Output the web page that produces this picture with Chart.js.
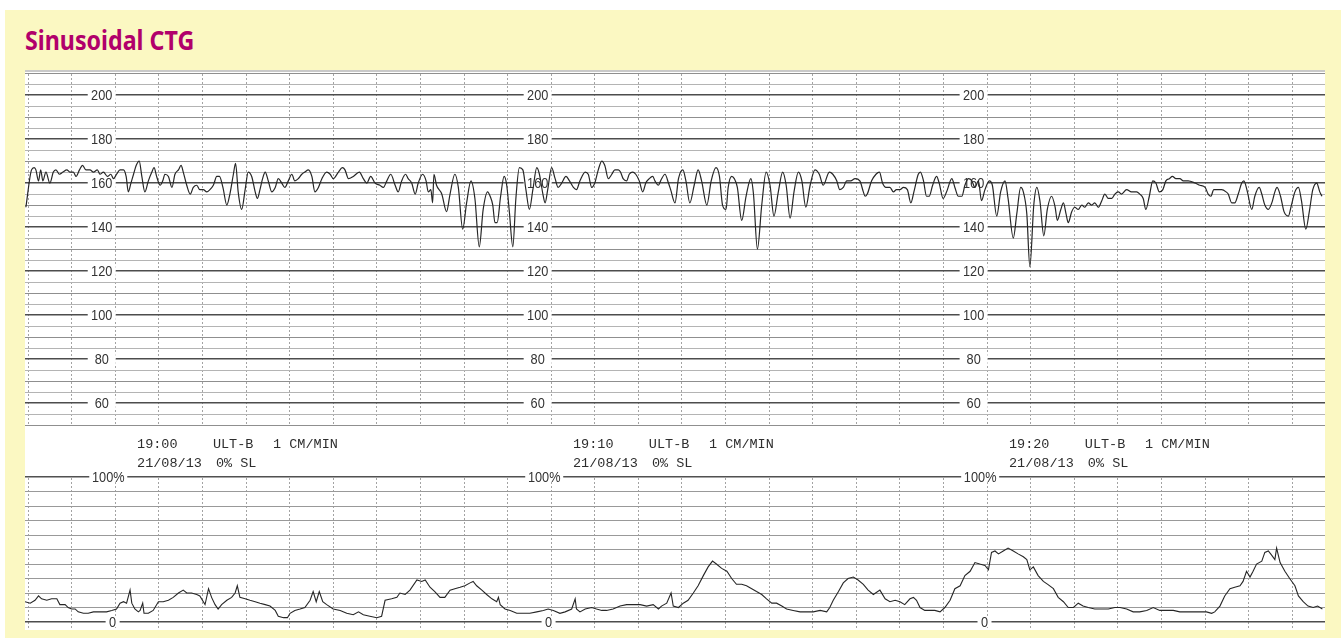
<!DOCTYPE html>
<html>
<head>
<meta charset="utf-8">
<script src="https://cdn.jsdelivr.net/npm/chart.js@4.4.1/dist/chart.umd.min.js"></script>
<style>
  body { margin: 0; background: #fff; width: 1341px; height: 638px; overflow: hidden; position: relative; }
  #frame { position: absolute; left: 5px; top: 10px; right: 0; bottom: 0; background: #fbf8c2; }
  h1 { position: absolute; left: 20px; top: 16px; margin: 0; font: bold 27px/27px "Noto Sans", sans-serif; color: #b1006b;
       transform: scaleX(.86); transform-origin: 0 0; white-space: nowrap; }
  #paper { position: absolute; left: 20px; top: 60px; width: 1300px; height: 560px; background: #fff; }
  #paper::after { content: ''; position: absolute; left: 0; right: 0; top: 0; height: 2px; background: #c9c9c9; }
</style>
</head>
<body>
<div id="frame">
  <h1>Sinusoidal CTG</h1>
  <div id="paper"><canvas id="ctg"></canvas></div>
</div>
<script>
// CTG trace: time in minutes from the first grid line, FHR in bpm, contractions in %
const fhrMin = [
  -0.05, 0.08, 0.14, 0.18, 0.24, 0.29, 0.34, 0.41, 0.50, 0.58,
  0.64, 0.72, 0.80, 0.89, 0.96, 1.04, 1.10, 1.18, 1.25, 1.33,
  1.42, 1.50, 1.59, 1.65, 1.73, 1.82, 1.90, 1.96, 2.03, 2.11,
  2.19, 2.25, 2.30, 2.36, 2.42, 2.48, 2.55, 2.61, 2.68, 2.76,
  2.84, 2.89, 2.95, 3.03, 3.09, 3.14, 3.22, 3.30, 3.37, 3.45,
  3.51, 3.56, 3.64, 3.72, 3.79, 3.87, 3.94, 4.02, 4.10, 4.17,
  4.25, 4.33, 4.39, 4.47, 4.56, 4.63, 4.71, 4.76, 4.82, 4.90,
  4.98, 5.05, 5.13, 5.21, 5.26, 5.32, 5.38, 5.44, 5.51, 5.59,
  5.67, 5.74, 5.82, 5.89, 5.97, 6.05, 6.12, 6.20, 6.28, 6.35,
  6.43, 6.51, 6.58, 6.66, 6.74, 6.85, 6.93, 7.00, 7.12, 7.21,
  7.27, 7.35, 7.46, 7.60, 7.69, 7.77, 7.86, 7.96, 8.07, 8.15,
  8.23, 8.32, 8.42, 8.49, 8.57, 8.66, 8.72, 8.80, 8.88, 8.95,
  9.05, 9.13, 9.18, 9.24, 9.28, 9.31, 9.37, 9.49, 9.60, 9.68,
  9.79, 9.87, 9.97, 10.06, 10.16, 10.25, 10.35, 10.44, 10.54, 10.60,
  10.66, 10.71, 10.76, 10.84, 10.92, 10.98, 11.04, 11.12, 11.19, 11.27,
  11.35, 11.42, 11.50, 11.58, 11.67, 11.73, 11.81, 11.86, 11.92, 12.01,
  12.09, 12.16, 12.24, 12.34, 12.42, 12.51, 12.58, 12.66, 12.78, 12.85,
  12.93, 13.00, 13.08, 13.16, 13.23, 13.31, 13.39, 13.46, 13.54, 13.59,
  13.65, 13.73, 13.79, 13.87, 13.94, 14.02, 14.10, 14.17, 14.25, 14.33,
  14.38, 14.46, 14.51, 14.61, 14.69, 14.74, 14.84, 14.92, 15.02, 15.09,
  15.18, 15.28, 15.37, 15.45, 15.57, 15.67, 15.78, 15.86, 15.93, 16.01,
  16.06, 16.14, 16.20, 16.27, 16.37, 16.47, 16.58, 16.64, 16.73, 16.83,
  16.93, 17.02, 17.11, 17.21, 17.31, 17.39, 17.48, 17.57, 17.67, 17.75,
  17.84, 17.94, 18.05, 18.15, 18.24, 18.38, 18.46, 18.55, 18.62, 18.70,
  18.78, 18.87, 18.97, 19.08, 19.16, 19.20, 19.25, 19.35, 19.45, 19.53,
  19.60, 19.68, 19.77, 19.85, 19.92, 20.00, 20.08, 20.17, 20.25, 20.32,
  20.42, 20.47, 20.54, 20.61, 20.67, 20.75, 20.84, 20.90, 20.99, 21.07,
  21.19, 21.26, 21.34, 21.42, 21.49, 21.57, 21.65, 21.72, 21.80, 21.87,
  21.95, 22.05, 22.12, 22.22, 22.31, 22.41, 22.48, 22.60, 22.68, 22.77,
  22.83, 22.91, 22.98, 23.07, 23.14, 23.21, 23.30, 23.38, 23.48, 23.56,
  23.61, 23.69, 23.75, 23.81, 23.86, 23.94, 24.01, 24.09, 24.17, 24.24,
  24.32, 24.40, 24.47, 24.55, 24.63, 24.70, 24.78, 24.86, 24.93, 25.01,
  25.08, 25.20, 25.31, 25.43, 25.50, 25.58, 25.64, 25.72, 25.80, 25.87,
  25.95, 26.03, 26.10, 26.18, 26.25, 26.33, 26.42, 26.50, 26.61, 26.77,
  26.88, 27.00, 27.07, 27.13, 27.20, 27.28, 27.38, 27.48, 27.53, 27.61,
  27.68, 27.76, 27.84, 27.89, 27.97, 28.07, 28.14, 28.24, 28.30, 28.37,
  28.45, 28.53, 28.60, 28.65, 28.73, 28.81, 28.91, 28.98, 29.06, 29.14,
  29.21, 29.31, 29.39, 29.47, 29.56, 29.63, 29.68
];
const fhrBpm = [
  149, 166, 167, 166, 161, 166, 161, 165, 160, 165,
  166, 164, 165, 166, 165, 165, 163, 166, 168, 166,
  166, 165, 166, 164, 165, 163, 164, 162, 164, 166,
  166, 163, 156, 160, 164, 168, 170, 163, 156, 161,
  165, 167, 163, 159, 161, 164, 163, 158, 164, 166,
  168, 165, 159, 155, 158, 159, 157, 157, 156, 157,
  159, 163, 163, 158, 150, 155, 164, 169, 156, 148,
  157, 165, 163, 156, 153, 157, 162, 165, 161, 156,
  158, 162, 160, 158, 161, 164, 161, 162, 164, 165,
  166, 163, 156, 158, 162, 165, 164, 162, 165, 167,
  166, 162, 163, 165, 162, 160, 163, 160, 159, 158,
  161, 164, 159, 156, 161, 164, 162, 160, 155, 160,
  164, 161, 156, 157, 151, 164, 159, 155, 147, 155,
  164, 158, 139, 151, 161, 153, 131, 148, 156, 154,
  150, 142, 142, 154, 163, 159, 147, 131, 153, 167,
  166, 157, 148, 157, 167, 164, 155, 151, 157, 167,
  162, 158, 160, 163, 161, 158, 157, 161, 165, 164,
  158, 160, 166, 170, 168, 162, 164, 166, 166, 165,
  162, 161, 164, 165, 164, 161, 156, 160, 162, 163,
  161, 159, 161, 164, 160, 157, 151, 162, 166, 161,
  151, 159, 166, 161, 150, 161, 167, 163, 150, 148,
  158, 163, 162, 158, 143, 154, 162, 155, 130, 150,
  165, 159, 145, 156, 165, 159, 144, 156, 165, 161,
  149, 159, 166, 164, 159, 165, 164, 161, 157, 158,
  161, 161, 162, 161, 156, 154, 155, 161, 164, 165,
  160, 158, 158, 156, 157, 157, 158, 157, 151, 156,
  164, 165, 161, 154, 154, 159, 163, 160, 153, 156,
  162, 158, 154, 154, 159, 162, 161, 158, 161, 152,
  157, 161, 159, 145, 156, 161, 153, 135, 146, 158,
  156, 146, 122, 150, 158, 152, 136, 148, 154, 149,
  143, 148, 151, 146, 142, 147, 149, 148, 150, 149,
  151, 150, 151, 149, 152, 155, 153, 153, 155, 156,
  155, 157, 156, 156, 155, 153, 148, 154, 161, 160,
  156, 157, 161, 162, 163, 162, 162, 161, 161, 160,
  159, 158, 155, 154, 157, 157, 157, 156, 155, 151,
  151, 155, 160, 161, 156, 148, 154, 158, 155, 150,
  148, 151, 156, 158, 154, 147, 145, 150, 156, 158,
  152, 139, 147, 157, 160, 156, 154
];
const tocoMin = [
  -0.07, 0.05, 0.16, 0.24, 0.31, 0.43, 0.54, 0.66, 0.73, 0.85,
  0.92, 1.00, 1.08, 1.15, 1.27, 1.38, 1.50, 1.65, 1.80, 1.92,
  2.03, 2.11, 2.19, 2.26, 2.34, 2.38, 2.45, 2.53, 2.57, 2.63,
  2.66, 2.76, 2.87, 2.99, 3.10, 3.22, 3.33, 3.45, 3.56, 3.64,
  3.75, 3.87, 3.94, 4.06, 4.14, 4.21, 4.29, 4.36, 4.44, 4.56,
  4.67, 4.75, 4.80, 4.86, 4.98, 5.09, 5.21, 5.32, 5.44, 5.55,
  5.67, 5.74, 5.86, 5.95, 6.01, 6.12, 6.24, 6.35, 6.47, 6.54,
  6.61, 6.68, 6.76, 6.85, 7.00, 7.16, 7.31, 7.46, 7.58, 7.69,
  7.84, 8.00, 8.11, 8.19, 8.34, 8.46, 8.53, 8.65, 8.76, 8.92,
  9.03, 9.11, 9.22, 9.33, 9.45, 9.56, 9.68, 9.79, 9.91, 10.02,
  10.14, 10.21, 10.29, 10.41, 10.52, 10.64, 10.75, 10.79, 10.83, 10.94,
  11.06, 11.21, 11.36, 11.51, 11.67, 11.82, 11.93, 12.05, 12.20, 12.32,
  12.47, 12.55, 12.58, 12.66, 12.78, 12.93, 13.04, 13.16, 13.27, 13.42,
  13.58, 13.73, 13.88, 14.04, 14.19, 14.34, 14.46, 14.53, 14.65, 14.75,
  14.80, 14.92, 15.03, 15.14, 15.26, 15.37, 15.49, 15.60, 15.70, 15.79,
  15.91, 16.03, 16.14, 16.25, 16.37, 16.48, 16.60, 16.71, 16.83, 16.94,
  17.06, 17.17, 17.29, 17.40, 17.55, 17.71, 17.86, 18.01, 18.17, 18.32,
  18.39, 18.47, 18.59, 18.70, 18.81, 18.93, 19.04, 19.16, 19.27, 19.39,
  19.54, 19.66, 19.77, 19.89, 20.00, 20.11, 20.23, 20.31, 20.38, 20.46,
  20.57, 20.69, 20.80, 20.92, 21.03, 21.15, 21.26, 21.38, 21.49, 21.61,
  21.72, 21.83, 21.95, 22.03, 22.10, 22.18, 22.26, 22.37, 22.48, 22.60,
  22.71, 22.83, 22.91, 22.98, 23.06, 23.17, 23.29, 23.39, 23.52, 23.63,
  23.75, 23.86, 23.98, 24.09, 24.20, 24.32, 24.47, 24.63, 24.78, 24.93,
  25.05, 25.20, 25.35, 25.50, 25.66, 25.81, 25.96, 26.12, 26.27, 26.42,
  26.58, 26.73, 26.88, 27.03, 27.15, 27.22, 27.34, 27.45, 27.57, 27.68,
  27.80, 27.87, 27.95, 28.03, 28.10, 28.18, 28.30, 28.37, 28.45, 28.53,
  28.60, 28.64, 28.72, 28.83, 28.94, 29.06, 29.14, 29.25, 29.36, 29.48,
  29.58, 29.69
];
const tocoPct = [
  14, 13, 15, 18, 16, 15, 16, 16, 12, 12,
  10, 9, 9, 7, 6, 6, 7, 7, 7, 8,
  9, 13, 14, 13, 22, 13, 9, 7, 8, 13,
  6, 6, 8, 14, 14, 15, 17, 20, 22, 20,
  20, 19, 18, 12, 23, 17, 12, 9, 12, 15,
  17, 20, 25, 17, 16, 15, 14, 13, 12, 11,
  8, 4, 3, 3, 6, 8, 9, 10, 15, 21,
  14, 21, 14, 12, 9, 8, 6, 5, 7, 5,
  4, 3, 4, 15, 16, 17, 20, 19, 22, 29,
  28, 29, 24, 21, 17, 17, 22, 23, 24, 25,
  27, 28, 25, 22, 19, 16, 14, 17, 12, 9,
  8, 6, 6, 6, 7, 8, 9, 8, 6, 7,
  9, 16, 9, 7, 9, 10, 9, 8, 8, 9,
  11, 12, 12, 12, 11, 12, 9, 11, 13, 20,
  11, 10, 13, 15, 20, 25, 32, 38, 42, 40,
  37, 35, 30, 26, 26, 25, 23, 21, 19, 16,
  13, 13, 11, 9, 8, 7, 7, 7, 8, 7,
  10, 15, 21, 27, 30, 31, 29, 26, 22, 19,
  22, 16, 14, 15, 14, 12, 16, 17, 15, 10,
  8, 8, 8, 7, 10, 15, 23, 25, 32, 35,
  41, 40, 39, 36, 48, 49, 47, 49, 51, 49,
  47, 45, 43, 36, 38, 32, 28, 26, 23, 17,
  14, 10, 10, 13, 11, 10, 9, 9, 9, 10,
  10, 9, 7, 7, 8, 10, 8, 8, 8, 7,
  7, 7, 7, 7, 6, 7, 11, 18, 23, 24,
  25, 28, 35, 31, 35, 40, 42, 48, 49, 46,
  43, 51, 41, 35, 30, 25, 18, 14, 11, 10,
  11, 9
];

// printed scale and header on each 10-minute sheet
const sheetStart = [0, 10, 20];
const sheetTime = ['19:00', '19:10', '19:20'];
const sheetDate = '21/08/13';
const fhrLabels = [200, 180, 160, 140, 120, 100, 80, 60];
const tocoLabels = [{ v: 100, text: '100%' }, { v: 0, text: '0' }];

const fhrGrid = [], tocoGrid = [], minuteGrid = [];
for (let v = 50; v <= 210; v += 5) fhrGrid.push(v);
for (let v = 0; v <= 100; v += 10) tocoGrid.push(v);
for (let m = 0; m <= 29; m++) minuteGrid.push(m);

const INK = '#262626';
const isMajor = v => v % 20 === 0 && v >= 60 && v <= 200;
const fhrLine = v => isMajor(v) ? '#4d4d4d' : v % 10 === 0 ? '#8f8f8f' : '#b4b4b4';

function narrowText(ctx, text, x, y) {
  ctx.save();
  ctx.translate(x, y);
  ctx.scale(0.85, 1);
  ctx.textAlign = 'center';
  ctx.fillText(text, 0, 0);
  ctx.restore();
}

const paperPrint = {
  id: 'paperPrint',
  beforeDatasetsDraw(chart) {
    const { ctx, chartArea: a, scales: { x, y, y2 } } = chart;
    ctx.save();
    // blank band between the FHR and the contraction grids
    const top = y.getPixelForValue(50), bot = y2.getPixelForValue(100);
    ctx.fillStyle = '#fff';
    ctx.fillRect(a.left, top + 1, a.right - a.left, bot - top - 2);

    const scaleFont = '15px "Liberation Sans", Arial, sans-serif';
    sheetStart.forEach((s, i) => {
      ctx.font = scaleFont;
      ctx.textBaseline = 'middle';
      const lx = x.getPixelForValue(s + 1.69);
      fhrLabels.forEach(v => {
        const ly = y.getPixelForValue(v);
        ctx.fillStyle = '#fff';
        ctx.fillRect(lx - 14, ly - 5, 28, 10);
        ctx.fillStyle = '#333';
        narrowText(ctx, String(v), lx, ly + 1);
      });
      tocoLabels.forEach(t => {
        const tx = x.getPixelForValue(s + (t.v === 100 ? 1.84 : 1.94));
        const ty = y2.getPixelForValue(t.v);
        const w = t.text.length * 8 + 6;
        ctx.fillStyle = '#fff';
        ctx.fillRect(tx - w / 2, ty - 5, w, 10);
        ctx.fillStyle = '#333';
        narrowText(ctx, t.text, tx, ty + 1);
      });
      // printer header
      ctx.font = '13.5px "Liberation Mono", "DejaVu Sans Mono", monospace';
      ctx.textBaseline = 'alphabetic';
      ctx.textAlign = 'left';
      ctx.fillStyle = '#2e2e2e';
      const r1 = y2.getPixelForValue(120), r2 = y2.getPixelForValue(107);
      ctx.fillText(sheetTime[i], x.getPixelForValue(s + 2.5), r1);
      ctx.fillText('ULT-B', x.getPixelForValue(s + 4.24), r1);
      ctx.fillText('1 CM/MIN', x.getPixelForValue(s + 5.62), r1);
      ctx.fillText(sheetDate, x.getPixelForValue(s + 2.5), r2);
      ctx.fillText('0% SL', x.getPixelForValue(s + 4.31), r2);
    });
    ctx.restore();
  }
};

new Chart(document.getElementById('ctg'), {
  type: 'line',
  data: {
    datasets: [
      { label: 'FHR', yAxisID: 'y', data: fhrMin.map((m, i) => ({ x: m, y: fhrBpm[i] })),
        borderColor: INK, borderWidth: 1.2, pointRadius: 0, cubicInterpolationMode: 'monotone' },
      { label: 'TOCO', yAxisID: 'y2', data: tocoMin.map((m, i) => ({ x: m, y: tocoPct[i] })),
        borderColor: INK, borderWidth: 1.1, pointRadius: 0, tension: 0 }
    ]
  },
  options: {
    responsive: true, maintainAspectRatio: false, animation: false, events: [],
    layout: { padding: 0, autoPadding: false },
    plugins: { legend: { display: false }, tooltip: { enabled: false } },
    scales: {
      x: {
        type: 'linear', min: -0.07, max: 29.75,
        afterBuildTicks: s => { s.ticks = minuteGrid.map(v => ({ value: v })); },
        ticks: { display: false },
        grid: { color: '#a3a3a3', lineWidth: 1, drawTicks: false },
        border: { display: false, dash: [2, 2] }
      },
      y: {
        position: 'left', min: -43.2, max: 211.4,
        afterBuildTicks: s => { s.ticks = fhrGrid.map(v => ({ value: v })); },
        ticks: { display: false },
        grid: { drawTicks: false, color: c => fhrLine(c.tick.value), lineWidth: c => isMajor(c.tick.value) ? 1.4 : 1 },
        border: { display: false }
      },
      y2: {
        position: 'right', min: -5.5, max: 380.7,
        afterBuildTicks: s => { s.ticks = tocoGrid.map(v => ({ value: v })); },
        ticks: { display: false },
        grid: { drawTicks: false, color: c => c.tick.value % 100 === 0 ? '#4d4d4d' : '#999', lineWidth: c => c.tick.value % 100 === 0 ? 1.4 : 1 },
        border: { display: false }
      }
    }
  },
  plugins: [paperPrint]
});
</script>
</body>
</html>
